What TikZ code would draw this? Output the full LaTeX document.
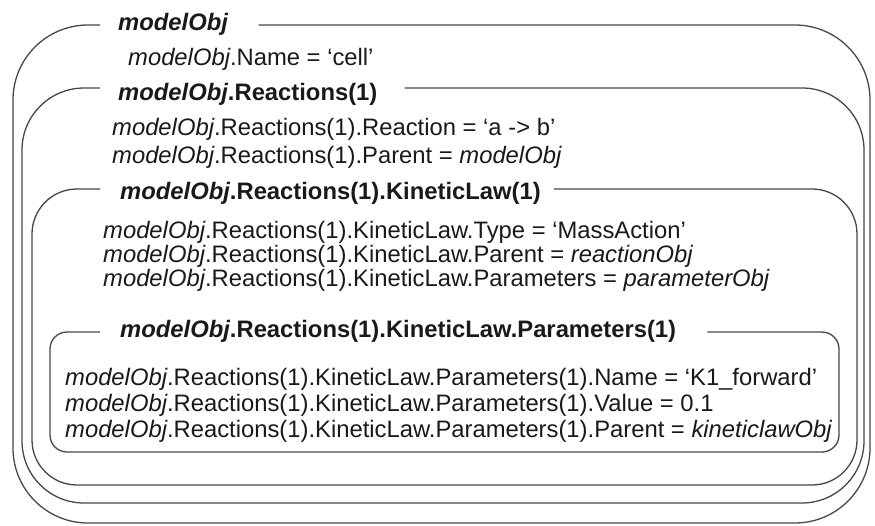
\documentclass[tikz,border=0pt]{standalone}
\usepackage{fontspec}
\setmainfont{Liberation Sans}
\usetikzlibrary{calc}
\begin{document}
\begin{tikzpicture}[x=1pt,y=-1pt,
  frame/.style={draw=black!72, line width=1.3pt},
  txt/.style={anchor=base west, inner sep=0pt, text=black!90,
    font=\fontsize{23.8}{26}\selectfont},
  ttl/.style={txt, font=\fontsize{23.8}{26}\selectfont\bfseries}]
\useasboundingbox (0,0) rectangle (875,525);

% object titles
\node[ttl] (t1) at (118,30)  {\textit{modelObj}};
\node[ttl] (t2) at (118,100) {\textit{modelObj}.Reactions(1)};
\node[ttl] (t3) at (120,199) {\textit{modelObj}.Reactions(1).KineticLaw(1)};
\node[ttl] (t4) at (120,337) {\textit{modelObj}.Reactions(1).KineticLaw.Parameters(1)};

% property lines
\node[txt] (a1) at (128,65)  {\textit{modelObj}.Name = ‘cell’};
\node[txt] (b1) at (112,135) {\textit{modelObj}.Reactions(1).Reaction = ‘a -> b’};
\node[txt] (b2) at (112,163) {\textit{modelObj}.Reactions(1).Parent = \textit{modelObj}};
\node[txt] (c1) at (103,238) {\textit{modelObj}.Reactions(1).KineticLaw.Type = ‘MassAction’};
\node[txt] (c2) at (103,262) {\textit{modelObj}.Reactions(1).KineticLaw.Parent = \textit{reactionObj}};
\node[txt] (c3) at (103,286) {\textit{modelObj}.Reactions(1).KineticLaw.Parameters = \textit{parameterObj}};
\node[txt] (d1) at (65,385) {\textit{modelObj}.Reactions(1).KineticLaw.Parameters(1).Name = ‘K1\_forward’};
\node[txt] (d2) at (65,411) {\textit{modelObj}.Reactions(1).KineticLaw.Parameters(1).Value = 0.1};
\node[txt] (d3) at (65,437) {\textit{modelObj}.Reactions(1).KineticLaw.Parameters(1).Parent = \textit{kineticlawObj}};

% nested frames, each open where its title sits
\draw[frame, rounded corners=75pt] ($(t1.east |- 0,25)+(30,0)$) -- (870,25) -- (870,523) -- (13,523) -- (13,25) -- (100,25);
\draw[frame, rounded corners=62pt] ($(t2.east |- 0,88)+(27,0)$) -- (864,88) -- (864,503) -- (22,503) -- (22,88) -- (100,88);
\draw[frame, rounded corners=45pt] ($(t3.east |- 0,189)+(13,0)$) -- (857,189) -- (857,485) -- (32,485) -- (32,189) -- (100,189);
\draw[frame, rounded corners=17pt] ($(t4.east |- 0,332)+(31,0)$) -- (839,332) -- (839,452) -- (50,452) -- (50,332) -- (100,332);
\end{tikzpicture}
\end{document}
